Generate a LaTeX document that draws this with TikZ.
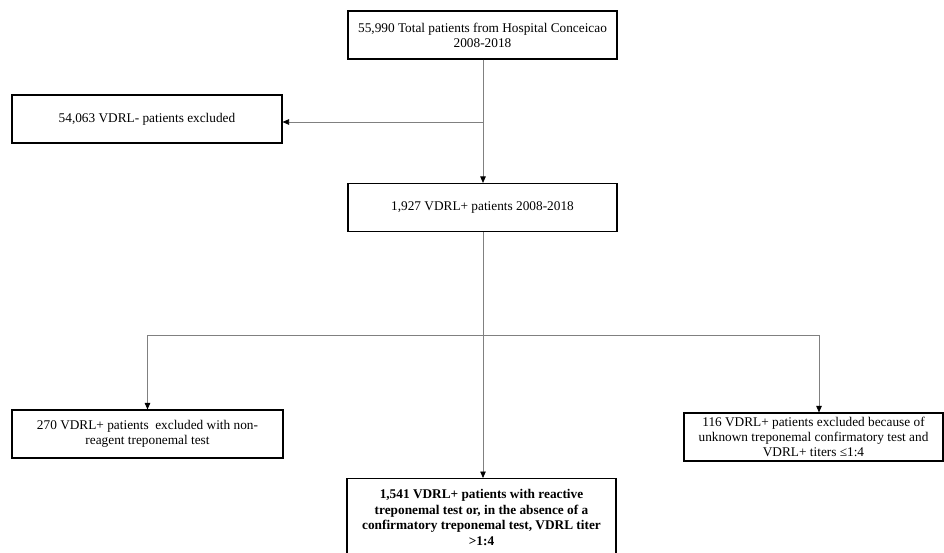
\documentclass[tikz,border=0pt]{standalone}
\usepackage{fontspec}
\setmainfont{Liberation Serif}
\usetikzlibrary{arrows.meta}

\begin{document}
\begin{tikzpicture}[x=1pt, y=1pt]
        \tikzstyle{every node} = [font=\fontsize{13.3}{15}\selectfont]
        \tikzstyle{pbox}       = [draw, line width=1.1pt, align=center, inner sep=0pt, minimum height=48pt]
        \tikzstyle{flow}       = [draw=gray, line width=0.8pt, -{Triangle[length=6.5pt, width=5.5pt, black]}]

        \useasboundingbox (0,0) rectangle (944,552);

        \node[pbox, minimum width=269pt] (total)   at (482.5,517) {55,990 Total patients from Hospital Conceicao\\2008-2018};
        \node[pbox, minimum width=270pt] (neg)     at (147,433)   {54,063 VDRL- patients excluded};
        \node[pbox, minimum width=269pt] (pos)     at (482.5,344.5) {1,927 VDRL+ patients 2008-2018};
        \node[pbox, minimum width=271pt] (nonreag) at (147.5,118) {270 VDRL+ patients\ \ excluded with non-\\reagent treponemal test};
        \node[pbox, minimum width=259pt] (unknown) at (813.5,115) {116 VDRL+ patients excluded because of\\unknown treponemal confirmatory test and\\VDRL+ titers ≤1:4};
        \node[pbox, minimum width=269pt, minimum height=78pt, anchor=north, font=\fontsize{13.3}{15.5}\selectfont\bfseries] (final) at (481.5,74)
            {1,541 VDRL+ patients with reactive\\treponemal test or, in the absence of a\\confirmatory treponemal test, VDRL titer\\>1:4};

        % Ramificatii.
        \coordinate (split1) at (483,430);
        \coordinate (split2) at (483,217);

        \draw[flow] (total.south -| split1) -- (pos.north -| split1);
        \draw[flow] (split1) -- (neg.east |- split1);
        \draw[draw=gray, line width=0.8pt] (pos.south -| split2) -- (split2);
        \draw[flow] (split2) -| (nonreag.north);
        \draw[flow] (split2) -| ([xshift=5.5pt]unknown.north);
        \draw[flow] (split2) -- (final.north -| split2);
    \end{tikzpicture}
\end{document}
